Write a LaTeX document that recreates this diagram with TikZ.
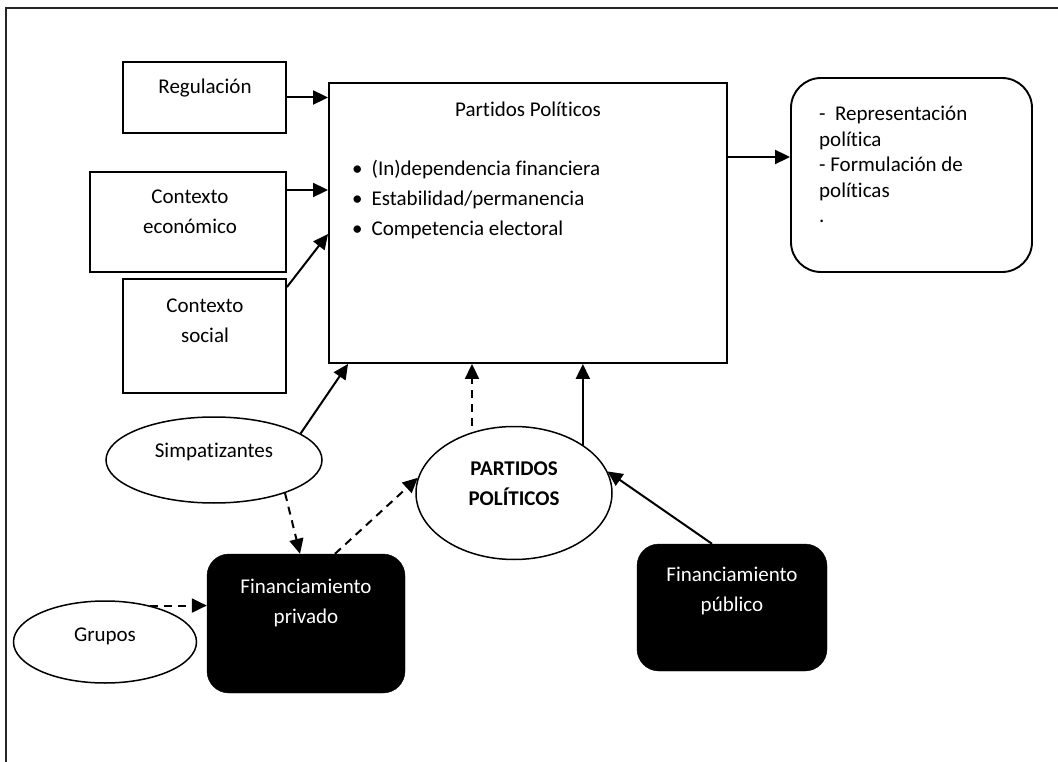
\documentclass[tikz,border=0pt]{standalone}
\usepackage{fontspec}
\setmainfont{Carlito}[Ligatures={NoCommon}]
\usetikzlibrary{arrows.meta,shapes.geometric}
\tikzset{
  sqbox/.style={draw, line width=1.9pt, rectangle, inner sep=0pt},
  outbox/.style={draw, line width=1.9pt, rectangle, rounded corners=30pt, inner sep=0pt},
  blkbox/.style={fill=black, draw=black, rectangle, rounded corners=22pt, inner sep=0pt},
  ell/.style={draw, line width=1.5pt, ellipse, inner sep=0pt},
  txt/.style={inner sep=0pt, font=\fontsize{21}{30}\selectfont, align=center},
  arr/.style={line width=2pt, -{Triangle[length=15pt,width=14pt]}},
  darr/.style={arr, dash pattern=on 8pt off 6pt},
}
\begin{document}
\begin{tikzpicture}[x=1pt,y=-1pt]
\useasboundingbox (0,0) rectangle (1058,762);
\fill[white] (0,0) rectangle (1058,762);
% outer frame (partly visible)
\draw[line width=2pt, draw=black!85] (6,762) -- (6,8) -- (1058,8);

% boxes
\node[sqbox, minimum width=163pt, minimum height=71pt] (reg) at (204.5,97.5) {};
\node[txt] (regT) at (205,88) {Regulación};
\node[sqbox, minimum width=196pt, minimum height=100pt] (eco) at (188,222) {};
\node[txt] (ecoT) at (190,212) {Contexto\\económico};
\node[sqbox, minimum width=163pt, minimum height=114pt] (soc) at (204.5,336) {};
\node[txt] (socT) at (205,321) {Contexto\\social};

\node[sqbox, minimum width=398pt, minimum height=280pt] (main) at (528,223) {};
\node[txt] (mainT) at (528,109) {Partidos Políticos};
\node[txt, align=left, anchor=north west] (mainL) at (352,160)
  {•\hspace{9pt}(In)dependencia financiera\\
   •\hspace{9pt}Estabilidad/permanencia\\
   •\hspace{9pt}Competencia electoral};

\node[outbox, minimum width=241pt, minimum height=194pt] (out) at (911.5,175) {};
\node[txt, align=left, anchor=north west, font=\fontsize{21}{25.5}\selectfont] (outT) at (819,106)
  {-\ \ Representación\\política\\- Formulación de\\políticas\\.};

% ellipses
\node[ell, minimum width=216pt, minimum height=86pt] (simp) at (214,460) {};
\node[txt] (simpT) at (214,452) {Simpatizantes};
\node[ell, minimum width=183pt, minimum height=82pt] (grupos) at (105,642) {};
\node[txt] (gruposT) at (105,636) {Grupos};
\node[ell, minimum width=196pt, minimum height=133pt] (partidos) at (514,493) {};
\node[txt, font=\fontsize{21}{30}\selectfont\bfseries] (partidosT) at (514,484) {PARTIDOS\\POLÍTICOS};

% black boxes
\node[blkbox, minimum width=198pt, minimum height=139pt] (priv) at (306,623.5) {};
\node[txt, text=white] (privT) at (306,603) {Financiamiento\\privado};
\node[blkbox, minimum width=190pt, minimum height=127pt] (pub) at (732,607.5) {};
\node[txt, text=white] (pubT) at (732,591) {Financiamiento\\público};

% connectors
\draw[arr] (reg.east) -- (reg.east -| main.west);
\draw[arr] ([yshift=32pt]eco.east) -- ([yshift=32pt]eco.east -| main.west);
\draw[arr] ([yshift=-9pt]soc.north east) -- ([yshift=-11pt]main.west);
\draw[arr] ([yshift=66pt]main.east) -- ([yshift=66pt]main.east -| out.west);
\draw[arr] (simp.17) -- ([xshift=20pt]main.south west);
\draw[darr] (simp.-25) -- ([xshift=-6pt]priv.north);
\draw[darr] ([xshift=29pt]priv.north) -- (partidos.171);
\draw[darr] (grupos.39) -- (grupos.39 -| priv.west);
\draw[darr] ([xshift=-42pt]partidos.north) -- ([xshift=-42pt]partidos.north |- main.south);
\draw[arr] (partidos.35) -- (partidos.35 |- main.south);
\draw[arr] ([xshift=-20pt]pub.north) -- (partidos.13);
\end{tikzpicture}
\end{document}
